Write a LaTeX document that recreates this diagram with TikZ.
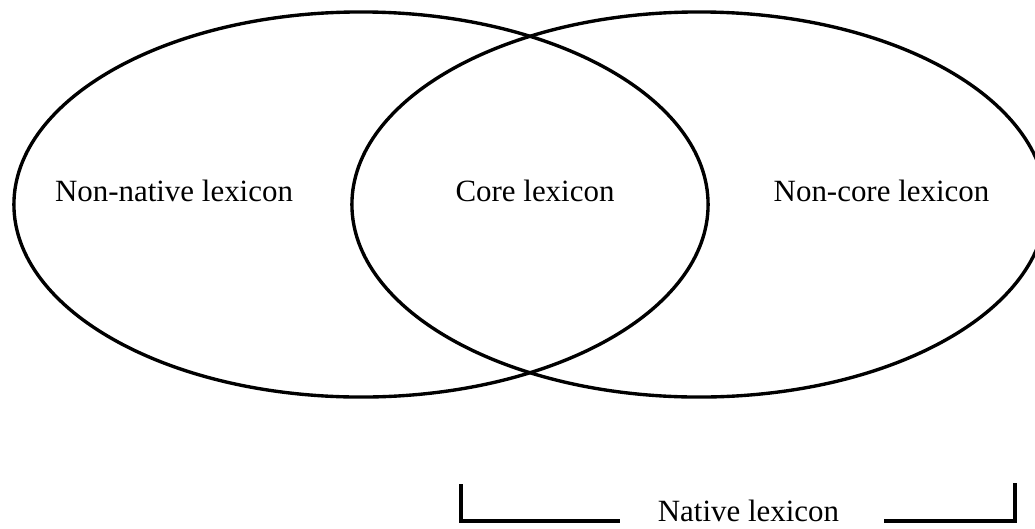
\documentclass[tikz,border=0pt]{standalone}
\usepackage{fontspec}
\setmainfont{Liberation Serif}
\usetikzlibrary{shapes.geometric,positioning}
\tikzset{
	lexset/.style={ellipse,draw=black,line width=2.4pt,minimum width=17.35cm,minimum height=9.625cm,inner sep=0pt},
	lab/.style={font=\fontsize{22}{26}\selectfont,anchor=base,inner sep=0pt},
	brk/.style={line width=2.4pt}
}

\begin{document}
\begin{tikzpicture}[x=0.025cm,y=-0.025cm]
    \clip (0,0) rectangle (1035,528);
    \node (nonnat) [lexset] at (361,204.5) {};
    \node (native) [lexset] at (699,204.5) {};

    \node (lnon) [lab] at (174,201) {Non-native lexicon};
    \node (lcore) [lab] at (535,201) {Core lexicon};
    \node (lnoncore) [lab] at (881.5,201) {Non-core lexicon};

    % bracket under the native set
    \node (nat) [lab] at (748.5,521) {Native lexicon};
    \coordinate (bl) at (461,484);
    \coordinate (br) at (1015,483);
    \draw[brk] (bl) |- ([xshift=-0.95cm]nat.base west);
    \draw[brk] (br) |- ([xshift=1.125cm]nat.base east);
\end{tikzpicture}
\end{document}
